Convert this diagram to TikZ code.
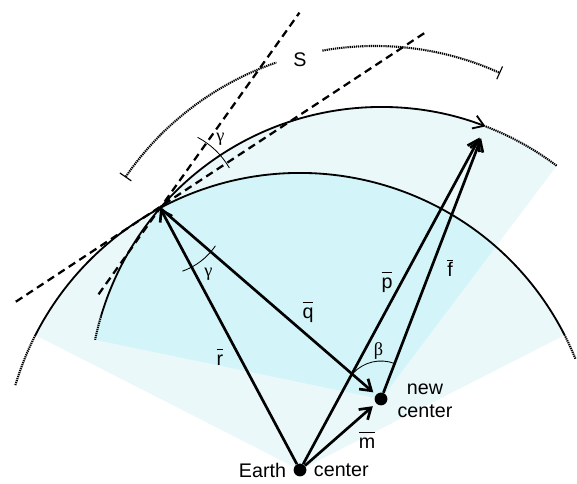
\documentclass[tikz,border=0pt]{standalone}
\usepackage{fontspec}
\setmainfont{Liberation Sans}
\newfontfamily\grk{Liberation Serif}
\usetikzlibrary{arrows.meta,calc,positioning}
\definecolor{cSecLt}{HTML}{EAF8FA}
\definecolor{cSecDk}{HTML}{D3F4F8}
\newcommand{\vlab}[1]{$\overline{\mbox{#1\vphantom{f}}}$}
\tikzset{
  vec/.style={-{Straight Barb[length=2.6mm,width=3.4mm]}, line width=1.9pt, line join=round},
  circ/.style={line width=1.3pt},
  dotarc/.style={line width=1.5pt, dash pattern=on 0.9pt off 0.6pt},
  tang/.style={line width=1.6pt, dash pattern=on 5.5pt off 3.5pt},
  angarc/.style={line width=0.6pt},
  dot/.style={circle, fill=black, inner sep=0pt, minimum size=0.32cm},
  lbl/.style={font=\fontsize{14}{16.5}\selectfont, inner sep=1pt},
  glbl/.style={font=\fontsize{13}{15}\selectfont\grk, inner sep=1pt},
}

\begin{document}
\begin{tikzpicture}[x=0.025cm, y=0.025cm]
  \useasboundingbox (-300,-14) rectangle (277,470);
  \coordinate (E) at (0,0);
  \coordinate (N) at (81,71);
  \coordinate (P) at (118.1:297);
  \coordinate (F) at ($(N)+(69:292)$);
  \coordinate (S0) at (75,121);
  \fill[cSecLt] (E) -- ++(27:297) arc[start angle=27, end angle=153, radius=297] -- cycle;
  \fill[cSecLt] (N) -- ++(53:292) arc[start angle=53, end angle=168.3, radius=292] -- cycle;
  \begin{scope}
    \clip (E) -- ++(27:297) arc[start angle=27, end angle=153, radius=297] -- cycle;
    \fill[cSecDk] (N) -- ++(53:292) arc[start angle=53, end angle=168.3, radius=292] -- cycle;
  \end{scope}
  % earth and shifted circles
  \draw[circ] (E) ++(27:297) arc[start angle=27, end angle=153, radius=297];
  \foreach \a/\b in {22/27, 153/163.4}
    \draw[dotarc] (E) ++(\a:297) arc[start angle=\a, end angle=\b, radius=297];
  \draw[circ, -{Straight Barb[length=2.6mm,width=3.4mm]}] (N) ++(163.6:292) arc[start angle=163.6, end angle=69, radius=292];
  \foreach \a/\b in {69/53, 163.6/168.3}
    \draw[dotarc] (N) ++(\a:292) arc[start angle=\a, end angle=\b, radius=292];
  % tangents
  \coordinate (t1a) at ($(P)+(213:172)$);
  \coordinate (t1b) at ($(P)+(33.5:320)$);
  \coordinate (t2a) at ($(P)+(234.5:106)$);
  \coordinate (t2b) at ($(P)+(54.5:240)$);
  \draw[tang] (t1a) -- (t1b);
  \draw[tang] (t2a) -- (t2b);
  % arc S
  \draw[dotarc, {Bar[width=3.5mm,line width=0.8pt]}-] (S0) ++(145.5:303) arc[start angle=145.5, end angle=109, radius=303];
  \draw[dotarc, -{Bar[width=3.5mm,line width=0.8pt]}] (S0) ++(100:303) arc[start angle=100, end angle=65.6, radius=303];
  \node[lbl] (slab) at (0,410) {S};
  % angles
  \draw[angarc] (P) ++(30:80) arc[start angle=30, end angle=62, radius=80];
  \draw[angarc] (P) ++(-70.5:67) arc[start angle=-70.5, end angle=-34.4, radius=67];
  \draw[angarc] (N) ++(69:38) arc[start angle=69, end angle=137.5, radius=38];
  \node[glbl] (g1) at ($(P)+(48.6:91)$) {γ};
  \node[glbl] (g2) at ($(P)+(-54:82)$) {γ};
  \node[glbl] (bt) at ($(N)+(93:48)$) {β};
  % vectors
  \node[dot] (earth) at (E) {};
  \node[dot] (newc) at (N) {};
  \draw[vec] (earth) -- (P);
  \draw[vec, shorten >=2.5pt] (P) -- (newc);
  \draw[vec, shorten >=9pt] (earth) -- (F);
  \draw[vec, shorten >=9pt] (newc) -- (F);
  \draw[vec, shorten >=3pt] (earth) -- (newc);
  \node[lbl] (rlab) at (-80,113) {\vlab{r}};
  \node[lbl] (qlab) at (8,158) {\vlab{q}};
  \node[lbl] (plab) at (87,188) {\vlab{p}};
  \node[lbl] (flab) at (150,202) {\vlab{f}};
  \node[lbl] (mlab) at (67,30) {\vlab{m}};
  \node[lbl, align=center] (nclab) at (125,69) {new\\center};
  \node[lbl, left=4pt of earth] (elab) {Earth};
  \node[lbl, right=4pt of earth] (clab) {center};
\end{tikzpicture}
\end{document}
